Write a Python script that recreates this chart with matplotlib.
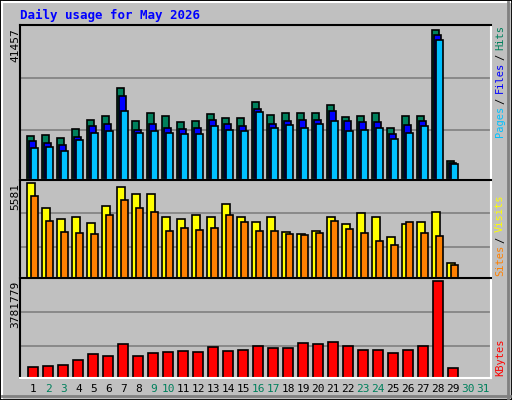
import matplotlib
matplotlib.use("Agg")
import matplotlib.pyplot as plt
import numpy as np
from matplotlib.patches import Rectangle
from matplotlib.lines import Line2D

days = list(range(1, 32))
hits = [12208,12490,11646,14178,16428,17553,25430,16147,18397,17553,15865,16147,18116,16991,16991,21491,17835,18397,18397,18397,20647,17272,17553,18397,14459,17553,17553,41457,5176]
files = [10802,10239,9677,11927,14740,15303,23179,13896,15303,14459,14178,14459,16428,15303,14740,19691,15303,16147,16428,16428,18960,16147,15865,15865,12771,15021,16147,40057,4613]
pages = [8833,9114,7989,11083,13052,13615,18960,13052,13615,13052,12771,12771,14740,13896,13615,18678,14459,15021,14459,15303,16147,13615,13896,14459,11365,13052,14740,38651,4332]
visits = [5581,4131,3466,3587,3224,4252,5340,4917,4917,3587,3466,3708,3587,4312,3587,3284,3587,2680,2559,2740,3587,3164,3829,3587,2378,3164,3284,3889,866]
sites = [4796,3345,2680,2620,2559,3708,4554,4131,3889,2740,2922,2801,2922,3708,3284,2740,2740,2559,2499,2620,3345,2861,2620,2196,1955,3284,2620,2438,746]
kbytes = [427862,469268,510674,717704,924734,841922,1338794,841922,966140,1007546,1048952,1007546,1214576,1048952,1090358,1255982,1173170,1173170,1380200,1338794,1421606,1255982,1090358,1090358,966140,1090358,1255982,3781779,386456]
weekend = [2,3,9,10,16,17,23,24,30,31]

W, H = 512, 400
BG = "#c0c0c0"
fig = plt.figure(figsize=(W/100, H/100), dpi=100, facecolor=BG)
mono = "DejaVu Sans Mono"

def ax_px(x0, y0, x1, y1):
    return fig.add_axes([x0/W, 1-y1/H, (x1-x0)/W, (y1-y0)/H])

def style(ax, ymax, grids):
    ax.set_facecolor(BG)
    ax.set_xlim(0.11, 31.51)
    ax.set_ylim(0, ymax*1.03)
    ax.set_xticks([]); ax.set_yticks([])
    for g in grids:
        ax.axhline(g, color="#808080", lw=1.2, zorder=0)
    ax.spines["top"].set_color("black"); ax.spines["left"].set_color("black")
    ax.spines["bottom"].set_color("white"); ax.spines["right"].set_color("white")
    for s in ax.spines.values():
        s.set_linewidth(1.5)

d = np.arange(1, len(hits)+1)
ax1 = ax_px(20, 25, 491, 180)
style(ax1, 41457, [41457*100/147.4, 41457*49.4/147.4])
kw = dict(align="edge", edgecolor="black", linewidth=1.2)
ax1.bar(d-0.44, hits, 0.48, color="#00805c", **kw)
ax1.bar(d-0.31, files, 0.48, color="#0000ff", **kw)
ax1.bar(d-0.18, pages, 0.48, color="#00c0ff", **kw)

ax2 = ax_px(20, 180, 491, 278)
style(ax2, 5581, [5581*190/277, 5581*91/277])
ax2.bar(d-0.42, visits, 0.55, color="#ffff00", **kw)
ax2.bar(d-0.16, sites, 0.48, color="#ff8000", **kw)

ax3 = ax_px(20, 278, 491, 378)
style(ax3, 3781779, [3781779*187/274, 3781779*89/274])
ax3.bar(d-0.38, kbytes, 0.66, color="#ff0000", **kw)

for day in days:
    x = (20 + (day-0.11)*15)
    fig.text(x/W, 1-389/H, str(day), ha="center", va="center", fontsize=8,
             family=mono, color="#00805c" if day in weekend else "black")

fig.text(20/W, 1-15/H, "Daily usage for May 2026", color="#0000ff", fontsize=9,
         family=mono, fontweight="bold", va="center", ha="left")

def ylab(txt, ytop):
    fig.text(15/W, 1-ytop/H, txt, rotation=90, ha="center", va="top",
             fontsize=8, family=mono)
ylab("41457", 28)
ylab("5581", 183)
ylab("3781779", 281)

def rlab(parts, ybot):
    y = ybot
    for t, c in parts:
        fig.text(500/W, 1-y/H, t, rotation=90, ha="center", va="bottom",
                 fontsize=7.5, family=mono, color=c)
        y -= len(t)*5.6 + 5
rlab([("Pages", "#00c0ff"), ("/", "black"), ("Files", "#0000ff"), ("/", "black"), ("Hits", "#00805c")], 137)
rlab([("Sites", "#ff8000"), ("/", "black"), ("Visits", "#ffff00")], 276)
rlab([("KBytes", "#ff0000")], 376)

# frame bevel
fig.add_artist(Rectangle((0, 0), 1, 1, transform=fig.transFigure, fill=False, edgecolor="black", lw=2))
fig.add_artist(Line2D([2/W, 2/W], [2/H, 1-2/H], color="white", lw=1.5))
fig.add_artist(Line2D([2/W, 1-2/W], [1-2/H, 1-2/H], color="white", lw=1.5))
fig.add_artist(Line2D([1-4/W, 1-4/W], [2/H, 1-2/H], color="#808080", lw=2))
fig.add_artist(Line2D([2/W, 1-2/W], [4/H, 4/H], color="#808080", lw=2))

fig.savefig("out.png", dpi=100, facecolor=BG)
